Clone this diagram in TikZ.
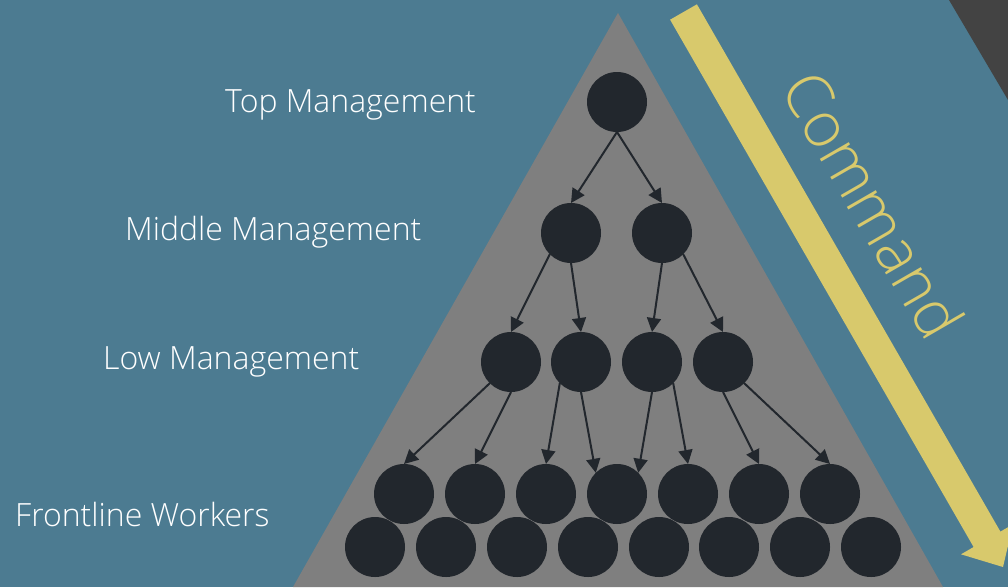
\documentclass[tikz,border=0pt]{standalone}
\usepackage{fontspec}
\setmainfont{Open Sans Light}
\usetikzlibrary{arrows.meta}

\definecolor{bgblue}{HTML}{4C7B91}
\definecolor{cornergrey}{HTML}{434343}
\definecolor{pyramidgrey}{HTML}{7F7F7F}
\definecolor{nodedark}{HTML}{22272D}
\definecolor{commandyellow}{HTML}{D8C96C}

\begin{document}
\begin{tikzpicture}[x=1pt,y=-1pt,
  person/.style={circle,fill=nodedark,minimum size=60pt,inner sep=0pt,outer sep=0pt},
  link/.style={draw=nodedark,line width=2pt,-{Triangle[length=14pt,width=14pt]}},
  level/.style={text=white,font=\fontsize{32}{38}\selectfont,anchor=base west,inner sep=0pt}]

% canvas
\fill[bgblue] (0,0) rectangle (1008,587);
\useasboundingbox (0,0) rectangle (1008,587);
\fill[cornergrey] (949,0) -- (1008,0) -- (1008,100) -- cycle;

% pyramid
\fill[pyramidgrey] (618,13) -- (943,587) -- (293,587) -- cycle;

% command arrow
\fill[commandyellow] (670.1,19.7) -- (696.9,4.3) -- (1000.4,531.6) -- (1013,524.3)
  -- (1003,567) -- (961,554.3) -- (973.6,547.0) -- cycle;
\node[text=commandyellow,font=\fontsize{63}{70}\selectfont,rotate=-60,
  anchor=base west,inner sep=0pt] (cmd) at (779,88) {Command};

% hierarchy levels
\node[person] (t) at (617,102) {};
\node[person] (m1) at (571,233) {};
\node[person] (m2) at (662,233) {};
\foreach \x [count=\i] in {511,581,652,723}
  \node[person] (l\i) at (\x,362) {};
\foreach \x [count=\i] in {404,475,546,617,688,759,830}
  \node[person] (f\i) at (\x,494) {};
\foreach \x [count=\i] in {375,446,517,588,659,729,800,871}
  \node[person] (g\i) at (\x,547) {};

% reporting lines
\draw[link] (t.south) -- (m1.north);
\draw[link] (t.south) -- (m2.north);
\draw[link] (m1.south west) -- (l1.north);
\draw[link] (m1.south) -- (l2.north);
\draw[link] (m2.south) -- (l3.north);
\draw[link] (m2.south east) -- (l4.north);
\draw[link] (l1.south west) -- (f1.north);
\draw[link] (l1.south) -- (f2.north);
\draw[link] (l2.south west) -- (f3.north);
\draw[link] (l2.south) -- (f4.north west);
\draw[link] (l3.south) -- (f4.north east);
\draw[link] (l3.south east) -- (f5.north);
\draw[link] (l4.south) -- (f6.north);
\draw[link] (l4.south east) -- (f7.north);

% labels
\node[level] (ltop) at (225,112) {Top Management};
\node[level] (lmid) at (125,240) {Middle Management};
\node[level] (llow) at (103,369) {Low Management};
\node[level] (lfront) at (15,526) {Frontline Workers};
\end{tikzpicture}
\end{document}
